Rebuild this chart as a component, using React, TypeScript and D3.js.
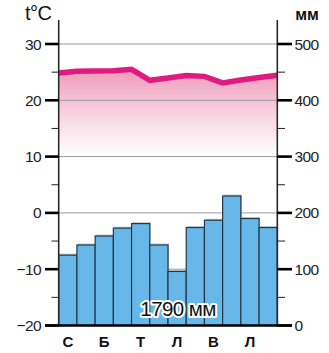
import React from "react";
import * as d3 from "d3";

const months = ["1", "2", "3", "4", "5", "6", "7", "8", "9", "10", "11", "12"];
const monthLabels = ["С", "", "Б", "", "Т", "", "Л", "", "В", "", "Л", ""];
const precipitation = [125, 143, 159, 173, 181, 143, 96, 174, 187, 230, 190, 174];
// temperature at month boundaries (13 points)
const temperature = [24.85, 25.15, 25.2, 25.25, 25.5, 23.55, 23.95, 24.4, 24.25, 23.1, 23.6, 24.05, 24.45];
const tempTicks = [30, 20, 10, 0, -10, -20];
const tempMinor = [25, 15, 5, -5, -15];
const precipTicks = [500, 400, 300, 200, 100, 0];
const totalLabel = "1790 мм";

const W = 329;
const H = 353;
const x0 = 58.7;
const x1 = 277.3;
const yTop = 44;
const yBot = 325.5;
const font = "'Liberation Sans', Arial, sans-serif";

export default function App() {
  const yT = d3.scaleLinear().domain([-20, 30]).range([yBot, yTop]);
  const yP = d3.scaleLinear().domain([0, 500]).range([yBot, yTop]);
  const xB = d3.scaleBand<string>().domain(months).range([x0, x1]).padding(0);
  const xE = d3.scaleLinear().domain([0, 12]).range([x0, x1]);

  const line = d3
    .line<number>()
    .x((_, i) => xE(i))
    .y((d) => yT(d));
  const area = d3
    .area<number>()
    .x((_, i) => xE(i))
    .y0(yT(10))
    .y1((d) => yT(d));

  const fmt = (v: number) => (v < 0 ? "\u2212" + Math.abs(v) : String(v));

  return (
    <svg
      width={W}
      height={H}
      style={{ position: "absolute", left: 0, top: 0, background: "#fff" }}
      fontFamily={font}
    >
      <defs>
        <linearGradient id="tg" x1="0" y1={yT(25.5)} x2="0" y2={yT(10)} gradientUnits="userSpaceOnUse">
          <stop offset="0" stopColor="#ee9bb9" />
          <stop offset="0.55" stopColor="#f8d7e3" />
          <stop offset="1" stopColor="#ffffff" />
        </linearGradient>
      </defs>

      {/* temperature fill */}
      <path d={area(temperature) || ""} fill="url(#tg)" />

      {/* grid lines */}
      {tempTicks.slice(0, 5).map((t) => (
        <line key={"g" + t} x1={x0} x2={x1} y1={yT(t)} y2={yT(t)} stroke="#9a9a9a" strokeWidth={1} />
      ))}

      {/* bars */}
      {precipitation.map((p, i) => (
        <rect
          key={"s" + i}
          x={xB(months[i])! + 1}
          y={yP(p) - 1.5}
          width={xB.bandwidth()}
          height={yBot - yP(p)}
          fill="#8a9aa6"
          opacity={0.5}
        />
      ))}
      {precipitation.map((p, i) => (
        <rect
          key={"b" + i}
          x={xB(months[i])!}
          y={yP(p)}
          width={xB.bandwidth()}
          height={yBot - yP(p)}
          fill="#67b8e8"
          stroke="#22384a"
          strokeWidth={1.2}
        />
      ))}

      {/* temperature line */}
      <path d={line(temperature) || ""} fill="none" stroke="#e01a80" strokeWidth={5.5} strokeLinejoin="miter" />

      {/* axes vertical */}
      <line x1={x0} x2={x0} y1={20} y2={yBot} stroke="#2a2a2a" strokeWidth={1.6} />
      <line x1={x1} x2={x1} y1={20} y2={yBot} stroke="#2a2a2a" strokeWidth={1.6} />

      {/* major ticks */}
      {tempTicks.map((t) => (
        <g key={"lt" + t}>
          <line x1={45} x2={x0} y1={yT(t)} y2={yT(t)} stroke="#000" strokeWidth={2.6} />
          <text x={41} y={yT(t) + 5.5} textAnchor="end" fontSize={15.5} fill="#222" letterSpacing={-0.6}>
            {fmt(t)}
          </text>
        </g>
      ))}
      {precipTicks.map((p) => (
        <g key={"rt" + p}>
          <line x1={x1} x2={292} y1={yP(p)} y2={yP(p)} stroke="#000" strokeWidth={2.6} />
          <text x={294.5} y={yP(p) + 5.5} textAnchor="start" fontSize={15.5} fill="#222" letterSpacing={-0.6}>
            {p}
          </text>
        </g>
      ))}
      {/* minor ticks */}
      {tempMinor.map((t) => (
        <g key={"m" + t}>
          <line x1={51.5} x2={x0} y1={yT(t)} y2={yT(t)} stroke="#222" strokeWidth={1} />
          <line x1={x1} x2={285} y1={yT(t)} y2={yT(t)} stroke="#222" strokeWidth={1} />
        </g>
      ))}

      {/* bottom axis */}
      <line x1={45} x2={292} y1={yBot} y2={yBot} stroke="#000" strokeWidth={2.6} />

      {/* month labels */}
      {monthLabels.map((m, i) =>
        m ? (
          <text
            key={"ml" + i}
            x={xB(months[i])! + xB.bandwidth() / 2}
            y={346.5}
            textAnchor="middle"
            fontSize={15}
            fontWeight="bold"
            fill="#111"
          >
            {m}
          </text>
        ) : null
      )}

      {/* unit labels */}
      <text x={25} y={20} fontSize={20} fill="#111" letterSpacing={-0.5}>
        t°C
      </text>
      <text x={307} y={20} fontSize={16} fontWeight="bold" fill="#111" textAnchor="middle">
        мм
      </text>

      {/* total */}
      <text
        x={178}
        y={316}
        textAnchor="middle"
        fontSize={20.5}
        fill="#111"
        stroke="#fff"
        strokeWidth={4}
        strokeLinejoin="round"
        paintOrder="stroke"
        letterSpacing={-0.6}
      >
        {totalLabel}
      </text>
    </svg>
  );
}
